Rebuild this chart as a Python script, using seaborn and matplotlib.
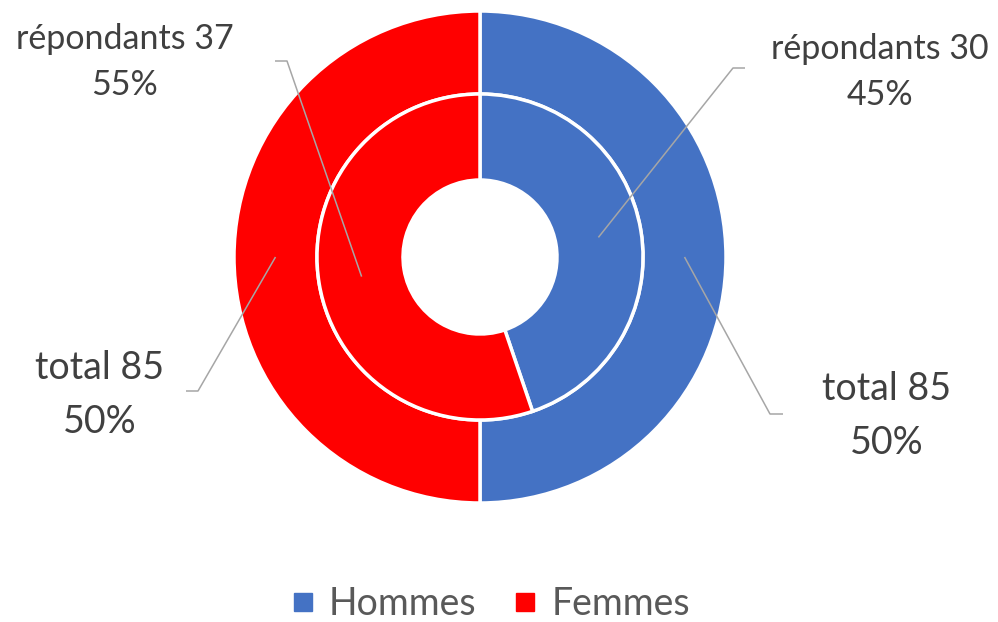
import numpy as np
import matplotlib
matplotlib.use("Agg")
import matplotlib.pyplot as plt
import seaborn as sns
from matplotlib.lines import Line2D

# ---- data ----
categories = ["Hommes", "Femmes"]
total_values = [85, 85]          # outer ring
repondants_values = [30, 37]     # inner ring
colors = ["#4472C4", "#FF0000"]

sns.set_theme(style="white")
plt.rcParams["font.family"] = ["Lato", "DejaVu Sans"]

W, H = 998, 622
fig = plt.figure(figsize=(W / 100, H / 100), dpi=100)
ax = fig.add_axes([0, 0, 1, 1])

cx, cy = 480, H - 257
R_out, R_mid, R_in = 246, 163, 77

ax.pie(total_values, colors=colors, radius=R_out, center=(cx, cy),
       startangle=90, counterclock=False, frame=True,
       wedgeprops=dict(width=R_out - R_mid, edgecolor="white", linewidth=2.5))
ax.pie(repondants_values, colors=colors, radius=R_mid, center=(cx, cy),
       startangle=90, counterclock=False, frame=True,
       wedgeprops=dict(width=R_mid - R_in, edgecolor="white", linewidth=2.5))
ax.set_xlim(0, W)
ax.set_ylim(0, H)
ax.set_aspect("equal")
ax.axis("off")

text_color = "#404040"
line_color = "#A6A6A6"


def anchor(vals, i, r):
    tot = sum(vals)
    start = 90 - 360 * sum(vals[:i]) / tot
    end = 90 - 360 * sum(vals[:i + 1]) / tot
    mid = np.deg2rad((start + end) / 2)
    return cx + r * np.cos(mid), cy + r * np.sin(mid)


def pct(vals, i):
    return f"{round(100 * vals[i] / sum(vals))}%"


# label definitions: (values, index, ring mid radius, elbow, end, text pos, prefix, size, spacing)
labels = [
    (repondants_values, 1, (R_mid + R_in) / 2, (287, H - 61), (275, H - 61), (125, H - 62), "répondants", 24.5, 1.55),
    (repondants_values, 0, (R_mid + R_in) / 2, (733, H - 68), (745, H - 68), (880, H - 72), "répondants", 24.5, 1.55),
    (total_values, 1, (R_out + R_mid) / 2, (198, H - 391), (186, H - 391), (100, H - 395), "total", 27, 1.62),
    (total_values, 0, (R_out + R_mid) / 2, (770, H - 414), (783, H - 414), (887, H - 416), "total", 27, 1.62),
]

for vals, i, r, elbow, end, tpos, prefix, size, sp in labels:
    ax0, ay0 = anchor(vals, i, r)
    ax.plot([ax0, elbow[0], end[0]], [ay0, elbow[1], end[1]], color=line_color, lw=1.1,
            solid_capstyle="butt", zorder=5)
    ax.text(tpos[0], tpos[1], f"{prefix} {vals[i]}\n{pct(vals, i)}", ha="center", va="center",
            fontsize=size, color=text_color, linespacing=sp, zorder=6)

handles = [Line2D([0], [0], marker="s", linestyle="none", markersize=13,
                  markerfacecolor=c, markeredgecolor=c) for c in colors]
fig.legend(handles, categories, loc="center", bbox_to_anchor=(487 / W, 1 - 604 / H),
           ncol=2, frameon=False, fontsize=27, handletextpad=0.2, columnspacing=0.8,
           handlelength=1.0, labelcolor="#595959")

fig.savefig("out.png", dpi=100)
